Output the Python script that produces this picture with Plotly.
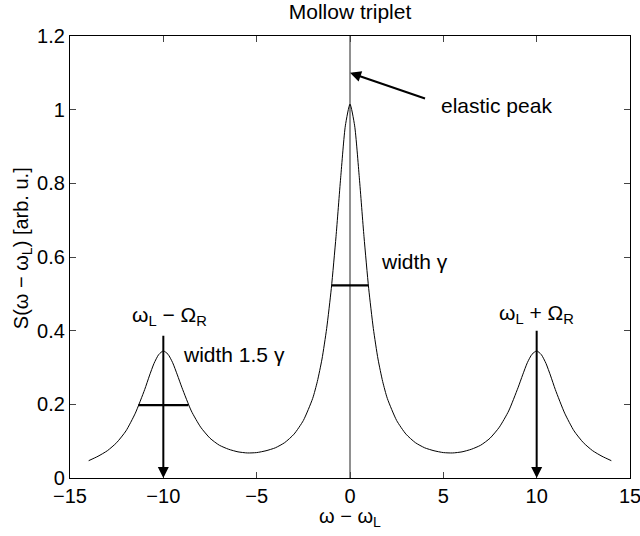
import plotly.graph_objects as go

# Spectrum (x = omega - omega_L, y = S)
x_vals = [-14, -13.5, -13, -12.5, -12, -11.5, -11, -10.75, -10.5, -10.25, -10,
          -9.75, -9.5, -9.25, -9, -8.5, -8, -7.5, -7, -6.5, -6, -5.5, -5, -4.5,
          -4, -3.5, -3, -2.5, -2, -1.75, -1.5, -1.25, -1, -0.75, -0.5, -0.25, 0,
          0.25, 0.5, 0.75, 1, 1.25, 1.5, 1.75, 2, 2.5, 3, 3.5, 4, 4.5, 5, 5.5,
          6, 6.5, 7, 7.5, 8, 8.5, 9, 9.25, 9.5, 9.75, 10, 10.25, 10.5, 10.75,
          11, 11.5, 12, 12.5, 13, 13.5, 14]
s_vals = [0.047, 0.059, 0.074, 0.096, 0.128, 0.176, 0.240, 0.277, 0.311, 0.335, 0.345,
          0.336, 0.313, 0.280, 0.245, 0.182, 0.138, 0.108, 0.089, 0.078, 0.071, 0.068, 0.069, 0.074,
          0.082, 0.096, 0.119, 0.156, 0.216, 0.262, 0.323, 0.406, 0.515, 0.655, 0.815, 0.956, 1.015,
          0.956, 0.815, 0.655, 0.515, 0.406, 0.323, 0.262, 0.216, 0.156, 0.119, 0.096, 0.082, 0.074, 0.069, 0.068,
          0.071, 0.078, 0.089, 0.108, 0.138, 0.182, 0.245, 0.280, 0.313, 0.336, 0.345, 0.335, 0.311, 0.277,
          0.240, 0.176, 0.128, 0.096, 0.074, 0.059, 0.047]

# half-width markers
central_bar_x = [-0.98, 0.98]
central_bar_y = [0.523, 0.523]
side_bar_x = [-11.34, -8.66]
side_bar_y = [0.198, 0.198]

# elastic peak line
elastic_x = [0, 0]
elastic_y = [0, 1.2]

# sideband arrows (x position, top value)
side_arrow_x = [-10, 10]
side_arrow_top = [0.39, 0.404]

x_ticks = [-15, -10, -5, 0, 5, 10, 15]
y_ticks = [0, 0.2, 0.4, 0.6, 0.8, 1.0, 1.2]
y_tick_text = ["0", "0.2", "0.4", "0.6", "0.8", "1", "1.2"]

FONT = "Liberation Sans, Arial, Helvetica, sans-serif"

W, H = 640, 536
ML, MR, MT, MB = 70, 10, 36, 58

fig = go.Figure()
fig.add_trace(go.Scatter(x=elastic_x, y=elastic_y, mode="lines",
                         line=dict(color="#222222", width=1), hoverinfo="skip"))
fig.add_trace(go.Scatter(x=x_vals, y=s_vals, mode="lines",
                         line=dict(color="black", width=1, shape="spline", smoothing=0.6)))
fig.add_trace(go.Scatter(x=central_bar_x, y=central_bar_y, mode="lines",
                         line=dict(color="black", width=2.2)))
fig.add_trace(go.Scatter(x=side_bar_x, y=side_bar_y, mode="lines",
                         line=dict(color="black", width=2.2)))

ann = []
for xa, top in zip(side_arrow_x, side_arrow_top):
    ann.append(dict(x=xa, y=0, ax=xa, ay=top, xref="x", yref="y", axref="x", ayref="y",
                    text="", showarrow=True, arrowhead=2, arrowsize=1.1, arrowwidth=2,
                    arrowcolor="black"))
ann.append(dict(x=0, y=1.10, ax=4.1, ay=1.029, xref="x", yref="y", axref="x", ayref="y",
                text="", showarrow=True, arrowhead=2, arrowsize=1.1, arrowwidth=2,
                arrowcolor="black"))

txt_font = dict(family=FONT, size=21, color="black")
labels = [
    ("elastic peak", 4.77, 1.01),
    ("width γ", 1.55, 0.587),
    ("width 1.5 γ", -9.05, 0.334),
    ("ω<sub>L</sub> − Ω<sub>R</sub>", -11.79, 0.44),
    ("ω<sub>L</sub> + Ω<sub>R</sub>", 7.87, 0.445),
]
for t, xx, yy in labels:
    ann.append(dict(x=xx, y=yy, xref="x", yref="y", text=t, showarrow=False,
                    xanchor="left", yanchor="middle", font=txt_font))

ann.append(dict(text="S(ω − ω<sub>L</sub>) [arb. u.]", x=(22 - ML) / (W - ML - MR),
                y=0.52, xref="paper", yref="paper", textangle=-90, showarrow=False,
                xanchor="center", yanchor="middle", font=dict(family=FONT, size=20, color="black")))
ann.append(dict(text="ω − ω<sub>L</sub>", x=0.5, y=(478 - 503) / (H - MT - MB),
                xref="paper", yref="paper", showarrow=False,
                xanchor="center", yanchor="top", font=dict(family=FONT, size=20, color="black")))

fig.update_layout(
    width=W, height=H,
    margin=dict(l=ML, r=MR, t=MT, b=MB, autoexpand=False),
    paper_bgcolor="white", plot_bgcolor="white",
    showlegend=False,
    annotations=ann,
    title=dict(text="Mollow triplet", x=350 / W, xanchor="center",
               y=1 - 12 / H, yanchor="middle", yref="container",
               font=dict(family=FONT, size=21, color="black")),
    font=dict(family=FONT, size=20, color="black"),
)
fig.update_xaxes(range=[-15, 15], tickvals=x_ticks, ticks="inside", ticklen=6,
                 showline=True, linecolor="black", linewidth=1.2, mirror="ticks",
                 showgrid=False, zeroline=False, ticklabeloverflow="allow",
                 automargin=False, tickfont=dict(family=FONT, size=20))
fig.update_yaxes(range=[0, 1.2], tickvals=y_ticks, ticktext=y_tick_text,
                 ticks="inside", ticklen=6,
                 showline=True, linecolor="black", linewidth=1.2, mirror="ticks",
                 showgrid=False, zeroline=False, automargin=False,
                 tickfont=dict(family=FONT, size=20))

# remove the page's default body margin so the figure sits at the window's corner
fig.write_html("out.html", config={"displayModeBar": False},
               post_script="document.body.style.margin='0';document.body.style.overflow='hidden';")
